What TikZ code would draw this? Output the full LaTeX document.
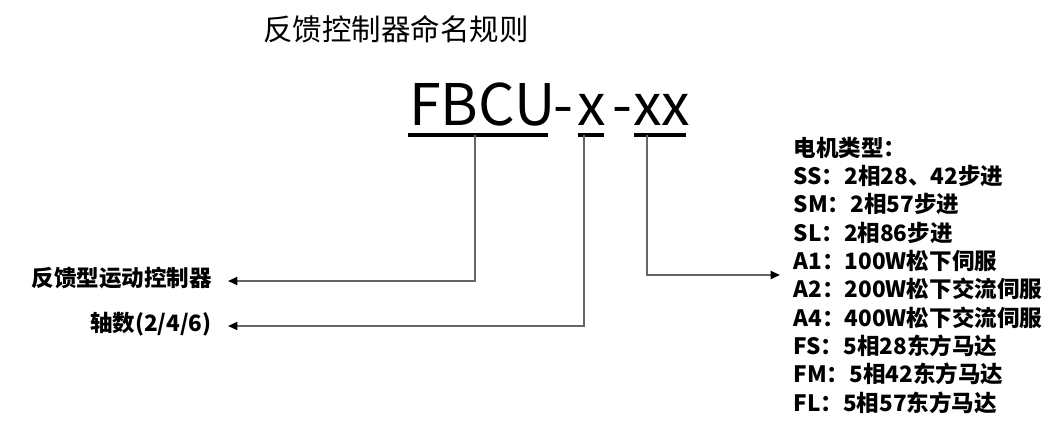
\documentclass[tikz,border=0pt]{standalone}
\usepackage{fontspec}
\setmainfont{Noto Sans CJK SC}
\usetikzlibrary{arrows.meta}
\begin{document}
\begin{tikzpicture}[x=0.75pt,y=-0.75pt,
  conn/.style={draw=black!60, line width=1.3pt, -{Triangle[length=7pt,width=6pt,color=black]}},
  uline/.style={draw=black, line width=2.4pt},
  big/.style={font=\fontsize{43}{50}\selectfont, inner sep=0pt, anchor=base west},
  lbl/.style={font=\bfseries\fontsize{16.9}{20}\selectfont, anchor=east, inner ysep=0pt, inner xsep=12pt,
              text height=0.88em, text depth=0.12em},
  title/.style={font=\fontsize{22.1}{26}\selectfont, anchor=west, inner sep=0pt}]
\useasboundingbox (0,0) rectangle (1053,422);
% title
\node[title] (ttl) at (263,29.5) {反馈控制器命名规则};
% code
\node[big] (fbcu) at (409,125) {FBCU};
\node[big] (d1) at (553,125) {-};
\node[big] (x1) at (577,125) {x};
\node[big] (d2) at (612,125) {-};
\node[big] (x2) at (633,125) {xx};
% underlines
\draw[uline] (408,135) -- (548,135);
\draw[uline] (578,135) -- (604,135);
\draw[uline] (634,135) -- (686,135);
\coordinate (u1) at (475,135);
\coordinate (u2) at (584,135);
\coordinate (u3) at (647,135);
% labels
\node[lbl] (lab1) at (228,281) {反馈型运动控制器};
\node[lbl] (lab2) at (228,326) {轴数(2/4/6)};
\node[font=\bfseries\fontsize{16.9}{21.25}\selectfont, align=left, anchor=west, inner xsep=10pt, inner ysep=0pt]
  (motor) at (780,275) {电机类型：\\SS：2相28、42步进\\SM：2相57步进\\SL：2相86步进\\A1：100W松下伺服\\A2：200W松下交流伺服\\A4：400W松下交流伺服\\FS：5相28东方马达\\FM：5相42东方马达\\FL：5相57东方马达};
% connectors
\draw[conn] (u1) |- (lab1.east);
\draw[conn] (u2) |- (lab2.east);
\draw[conn] (u3) |- (motor.west);
\end{tikzpicture}
\end{document}
